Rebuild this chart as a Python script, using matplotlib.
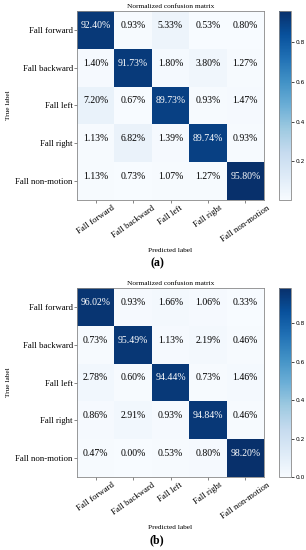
import numpy as np
import matplotlib.pyplot as plt

classes = ["Fall forward", "Fall backward", "Fall left", "Fall right", "Fall non-motion"]

cm_a = np.array([
    [92.40, 0.93, 5.33, 0.53, 0.80],
    [1.40, 91.73, 1.80, 3.80, 1.27],
    [7.20, 0.67, 89.73, 0.93, 1.47],
    [1.13, 6.82, 1.39, 89.74, 0.93],
    [1.13, 0.73, 1.07, 1.27, 95.80],
]) / 100

cm_b = np.array([
    [96.02, 0.93, 1.66, 1.06, 0.33],
    [0.73, 95.49, 1.13, 2.19, 0.46],
    [2.78, 0.60, 94.44, 0.73, 1.46],
    [0.86, 2.91, 0.93, 94.84, 0.46],
    [0.47, 0.00, 0.53, 0.80, 98.20],
]) / 100

W, H = 306, 550
fig = plt.figure(figsize=(W / 100, H / 100), dpi=100)
fig.patch.set_facecolor("white")

SERIF = "Liberation Serif"


def px(x0, y0, x1, y1):
    return [x0 / W, 1 - y1 / H, (x1 - x0) / W, (y1 - y0) / H]


def draw_cm(cm, top, letter):
    ax = fig.add_axes(px(77, top, 264, top + 189))
    cax = fig.add_axes(px(279, top, 291, top + 189))
    im = ax.imshow(cm, interpolation="nearest", cmap=plt.cm.Blues, aspect="auto")
    cb = fig.colorbar(im, cax=cax)
    cb.ax.tick_params(labelsize=4.2, length=2, width=0.5, pad=1)
    cb.outline.set_edgecolor("#888888")
    cb.outline.set_linewidth(0.6)
    cb.set_ticks([t for t in [0.0, 0.2, 0.4, 0.6, 0.8] if cm.min() <= t <= cm.max()])

    ticks = np.arange(len(classes))
    ax.set_xticks(ticks)
    ax.set_yticks(ticks)
    ax.set_xticklabels(classes, rotation=35, family=SERIF, fontsize=6.3)
    ax.set_yticklabels(classes, family=SERIF, fontsize=6.3)
    ax.tick_params(length=2, width=0.5, pad=1, color="#555555")
    for s in ax.spines.values():
        s.set_edgecolor("#888888")
        s.set_linewidth(0.6)

    thresh = cm.max() / 2.0
    for i in range(cm.shape[0]):
        for j in range(cm.shape[1]):
            ax.text(j, i - 0.12, f"{cm[i, j] * 100:.2f}%", ha="center", va="center",
                    family=SERIF, fontsize=7,
                    color="white" if cm[i, j] > thresh else "black")

    ax.set_title("Normalized confusion matrix", family=SERIF, fontsize=5.3, pad=2)
    ax.set_ylabel("True label", family=SERIF, fontsize=5.3, labelpad=3)
    ax.set_xlabel("Predicted label", family=SERIF, fontsize=5.3, labelpad=3)
    fig.text(157 / W, 1 - (top + 252) / H, letter, ha="center", va="center",
             family=SERIF, fontsize=8.5, fontweight="bold")


draw_cm(cm_a, 11, "(a)")
draw_cm(cm_b, 288, "(b)")

plt.savefig("out.png", dpi=100)
